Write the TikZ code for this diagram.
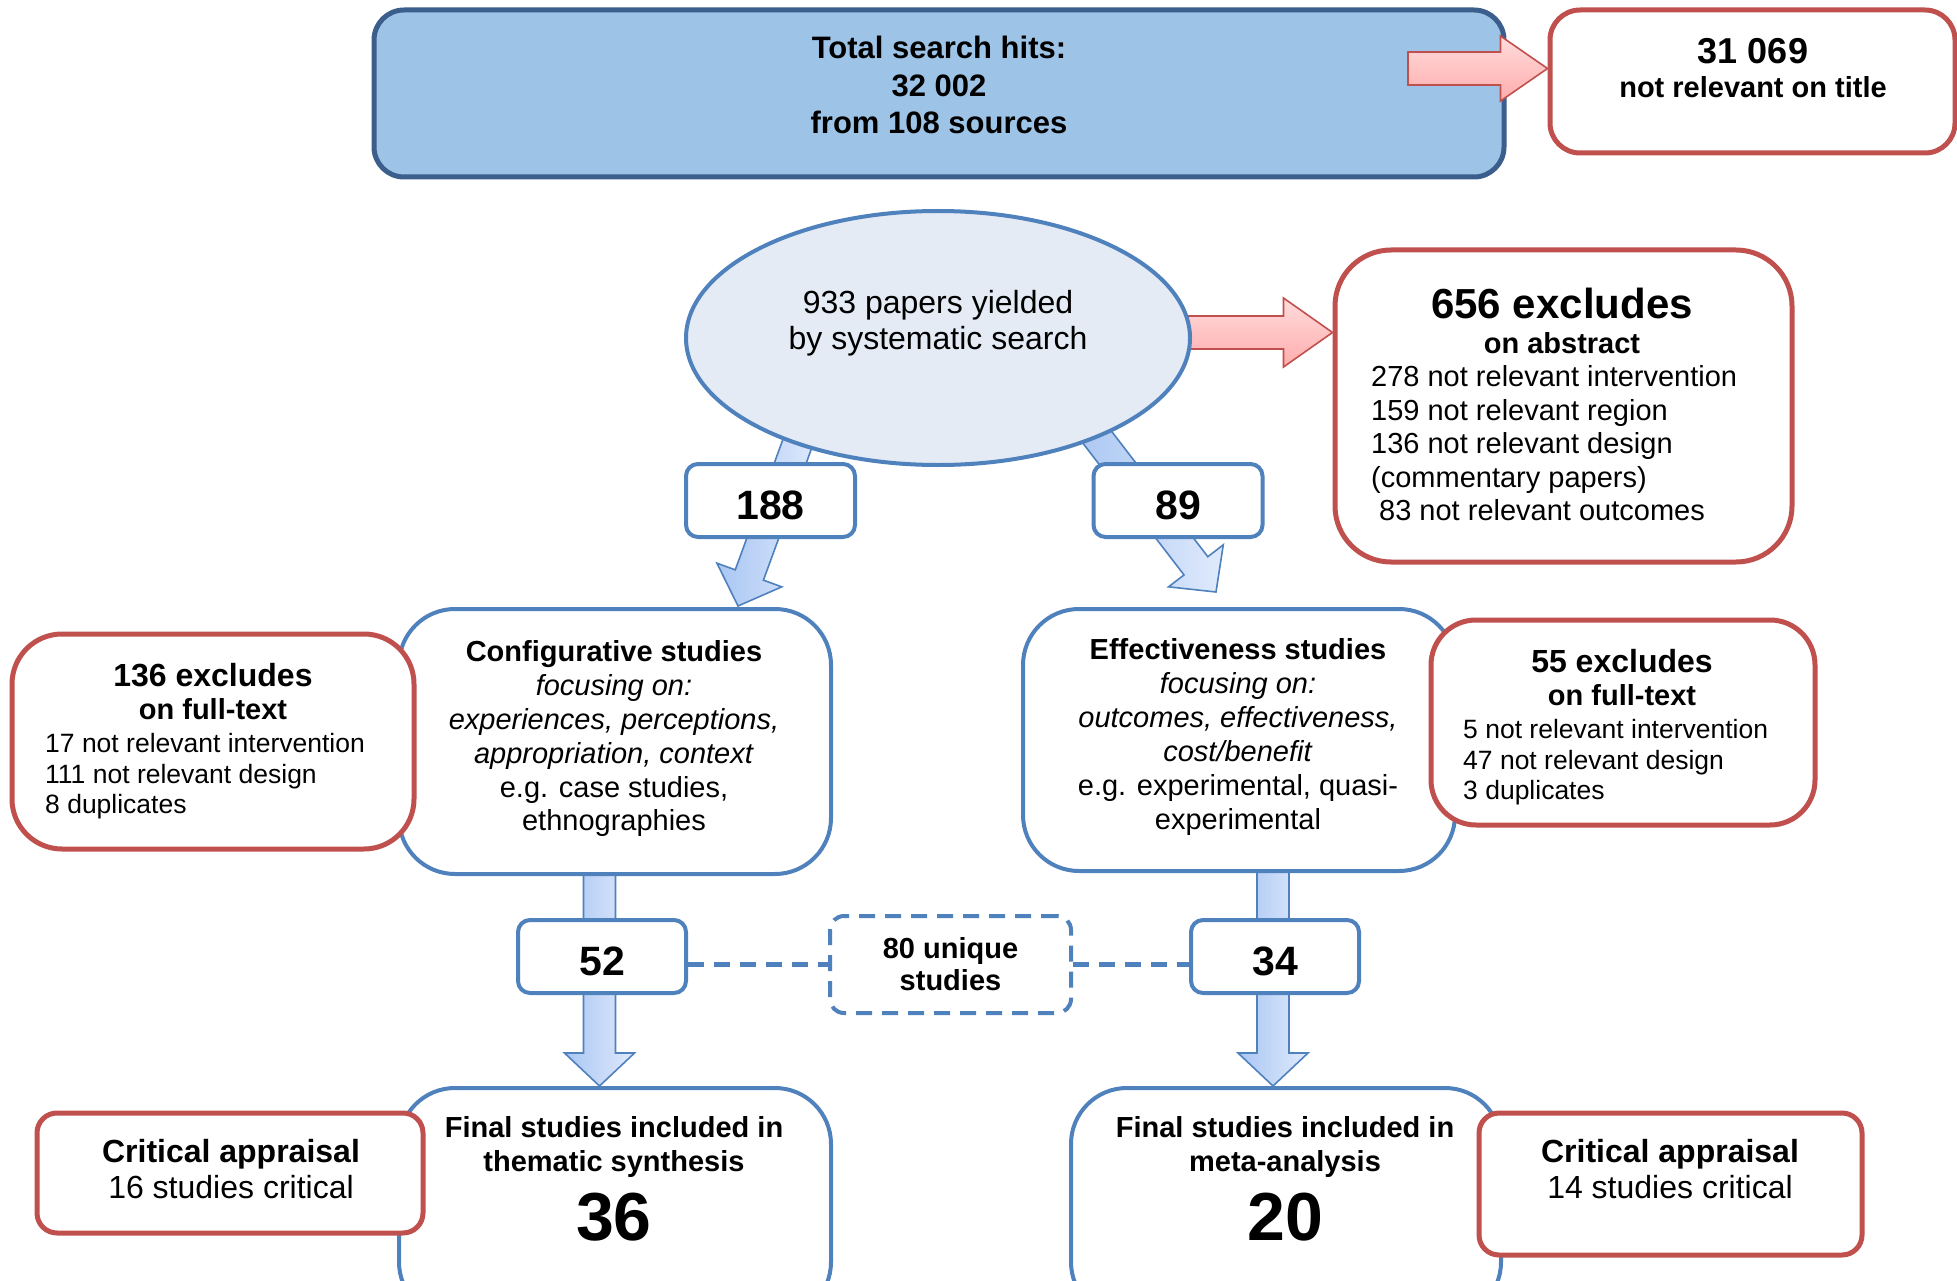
\documentclass[tikz,border=0pt]{standalone}
\usepackage{fontspec}
\setmainfont{Liberation Sans}
\usetikzlibrary{calc,shapes.geometric}

\definecolor{bbord}{HTML}{4F81BD}
\definecolor{rbord}{HTML}{C0504D}
\definecolor{topfill}{HTML}{9DC3E6}
\definecolor{topbord}{HTML}{3C5E8C}
\definecolor{ellfill}{HTML}{E4EBF5}
\definecolor{arrL}{HTML}{A9C6F3}
\definecolor{arrR}{HTML}{E0EAFC}
\definecolor{pinkT}{HTML}{FFDCDC}
\definecolor{pinkB}{HTML}{FFACAC}

\newcommand\fs[2]{\fontsize{#1}{#2}\selectfont}

% block arrow: #1 style, #2 start, #3 tip, #4 shaft half width, #5 head half width, #6 head length
\newcommand\blockarrow[6]{%
  \coordinate (bahb) at ($(#3)!#6!(#2)$);
  \path[#1] ($(#2)!#4!90:(#3)$) -- ($(bahb)!#4!90:(#3)$) -- ($(bahb)!#5!90:(#3)$)
    -- (#3) -- ($(bahb)!#5!-90:(#3)$) -- ($(bahb)!#4!-90:(#3)$)
    -- ($(#2)!#4!-90:(#3)$) -- cycle;
}

\begin{document}
\begin{tikzpicture}[x=1pt,y=-1pt,
  box/.style={rectangle, fill=white, inner sep=0pt, line width=4pt, draw=bbord},
  bluebox/.style={box, rounded corners=#1},
  redbox/.style={box, draw=rbord, line width=5pt, rounded corners=#1},
  numbox/.style={bluebox=12pt, minimum width=169pt, minimum height=73pt,
                 text height=38pt, text depth=0pt, font=\bfseries\fs{41}{45}},
  txt/.style={inner sep=0pt, anchor=north, align=center},
  ltxt/.style={inner sep=0pt, anchor=north west, align=left},
  blockblue/.style={draw=bbord, line width=1.6pt, left color=arrL, right color=arrR},
  blockred/.style={draw=rbord, line width=1.6pt, top color=pinkT, bottom color=pinkB},
  dashlink/.style={draw=bbord, line width=5pt, dash pattern=on 16pt off 10pt},
]
\useasboundingbox[fill=white] (0,0) rectangle (1957,1281);

% ---- top row -------------------------------------------------------------
\node[box, draw=topbord, line width=5pt, fill=topfill, rounded corners=30pt,
      minimum width=1130pt, minimum height=167pt] (total) at (939,93.5) {};
\node[txt, font=\bfseries\fs{31}{37.5}] (totaltext) at (939,36)
  {Total search hits:\\32 002\\from 108 sources};

\node[redbox=30pt, minimum width=405pt, minimum height=143pt] (title) at (1752.5,81.5) {};
\node[txt, font=\bfseries\fs{36}{40}] (titlenum) at (1753,38) {31 069};
\node[txt, font=\bfseries\fs{29}{33}] (titletext) at (1753,76.6) {not relevant on title};

\coordinate (rA) at (1408,68.5);
\coordinate (rAt) at (title.west |- rA);
\blockarrow{blockred}{rA}{rAt}{16.5pt}{32.5pt}{47pt}

% ---- arrows leaving the search ellipse -----------------------------------
\node[redbox=56pt, minimum width=457pt, minimum height=312pt] (abs) at (1563.5,406) {};
\coordinate (rB) at (1180,332.5);
\coordinate (rBt) at (abs.west |- rB);
\blockarrow{blockred}{rB}{rBt}{16.5pt}{34.5pt}{49pt}

\coordinate (dL) at (806,420);
\coordinate (dLt) at (738,606);
\blockarrow{blockblue}{dL}{dLt}{15pt}{34.5pt}{33pt}
\coordinate (dR) at (1084,420);
\coordinate (dRt) at (1216,592);
\blockarrow{blockblue}{dR}{dRt}{15pt}{34.5pt}{33pt}

\node[ellipse, draw=bbord, line width=4pt, fill=ellfill, inner sep=0pt,
      minimum width=504pt, minimum height=254pt] (search) at (938,338) {};
\node[txt, font=\fs{32}{36}] (searchtext) at (938,290.5)
  {933 papers yielded\\by systematic search};

\node[txt, font=\bfseries\fs{42}{46}] (abshead) at (1562,288) {656 excludes};
\node[txt, font=\bfseries\fs{29}{33}] (abssub) at (1562,332.6) {on abstract};
\node[ltxt, font=\fs{29}{33.5}] (abslist) at (1371,365.6)
  {278 not relevant intervention\\159 not relevant region\\136 not relevant design\\(commentary papers)\\\hspace*{8pt}83 not relevant outcomes};

\node[numbox] (n188) at (770.5,500.5) {188};
\node[numbox] (n89) at (1178,500.5) {89};

% ---- vertical arrows down to the final boxes ------------------------------
\coordinate (vL) at (599.5,874);
\coordinate (vLt) at (599.5,1086);
\blockarrow{blockblue}{vL}{vLt}{16pt}{35pt}{33pt}
\coordinate (vR) at (1273,871);
\coordinate (vRt) at (1273,1086);
\blockarrow{blockblue}{vR}{vRt}{16pt}{35pt}{33pt}

% ---- study type boxes -----------------------------------------------------
\node[bluebox=56pt, minimum width=432pt, minimum height=265pt] (conf) at (615,741.5) {};
\node[txt, font=\fs{29}{33.8}] (conftext) at (614,640.6)
  {\textbf{Configurative studies}\\\textit{focusing on:}\\\textit{experiences, perceptions,}\\\textit{appropriation, context}\\e.g. case studies,\\ethnographies};

\node[bluebox=56pt, minimum width=432pt, minimum height=262pt] (eff) at (1239,740) {};
\node[txt, font=\fs{29}{34}] (efftext) at (1238,638.6)
  {\textbf{Effectiveness studies}\\\textit{focusing on:}\\\textit{outcomes, effectiveness,}\\\textit{cost/benefit}\\e.g. experimental, quasi-\\experimental};

\node[redbox=50pt, minimum width=402pt, minimum height=215pt] (exL) at (213,741.5) {};
\node[txt, font=\bfseries\fs{32}{36}] (exLhead) at (213,663.5) {136 excludes};
\node[txt, font=\bfseries\fs{29}{33}] (exLsub) at (213,698.6) {on full-text};
\node[ltxt, font=\fs{26.5}{30.5}] (exLlist) at (45,733.5)
  {17 not relevant intervention\\111 not relevant design\\8 duplicates};

\node[redbox=45pt, minimum width=384pt, minimum height=205pt] (exR) at (1623,722.5) {};
\node[txt, font=\bfseries\fs{32}{36}] (exRhead) at (1622,649.5) {55 excludes};
\node[txt, font=\bfseries\fs{29}{33}] (exRsub) at (1622,684.6) {on full-text};
\node[ltxt, font=\fs{26.5}{30.5}] (exRlist) at (1463,719.5)
  {5 not relevant intervention\\47 not relevant design\\3 duplicates};

% ---- counts and unique studies -------------------------------------------
\node[numbox, minimum width=168pt] (n52) at (602,956.5) {52};
\node[numbox, minimum width=168pt] (n34) at (1275,956.5) {34};
\node[bluebox=14pt, dash pattern=on 16pt off 10pt, minimum width=241pt, minimum height=97pt,
      align=center, font=\bfseries\fs{29}{32}] (uniq) at (950.5,964.5) {80 unique\\studies};
\draw[dashlink] (n52.east |- uniq.west) -- (uniq.west);
\draw[dashlink] (uniq.east) -- (uniq.east -| n34.west);

% ---- final boxes ---------------------------------------------------------
\node[bluebox=56pt, minimum width=432pt, minimum height=230pt] (finL) at (615,1203) {};
\node[txt, font=\bfseries\fs{29}{34}] (finLtext) at (614,1116.6)
  {Final studies included in\\thematic synthesis};
\node[inner sep=0pt, font=\bfseries\fs{68}{72}] (finLnum) at (614,1217) {36};

\node[bluebox=56pt, minimum width=430pt, minimum height=230pt] (finR) at (1286,1203) {};
\node[txt, font=\bfseries\fs{29}{34}] (finRtext) at (1285,1116.6)
  {Final studies included in\\meta-analysis};
\node[inner sep=0pt, font=\bfseries\fs{68}{72}] (finRnum) at (1285,1217) {20};

\node[redbox=20pt, minimum width=386pt, minimum height=120pt] (critL) at (230,1173) {};
\node[txt, font=\fs{32}{36}] (critLtext) at (231,1139.5)
  {\textbf{Critical appraisal}\\16 studies critical};

\node[redbox=20pt, minimum width=383pt, minimum height=142pt] (critR) at (1670.5,1184) {};
\node[txt, font=\fs{32}{36}] (critRtext) at (1670,1139.5)
  {\textbf{Critical appraisal}\\14 studies critical};
\end{tikzpicture}
\end{document}
